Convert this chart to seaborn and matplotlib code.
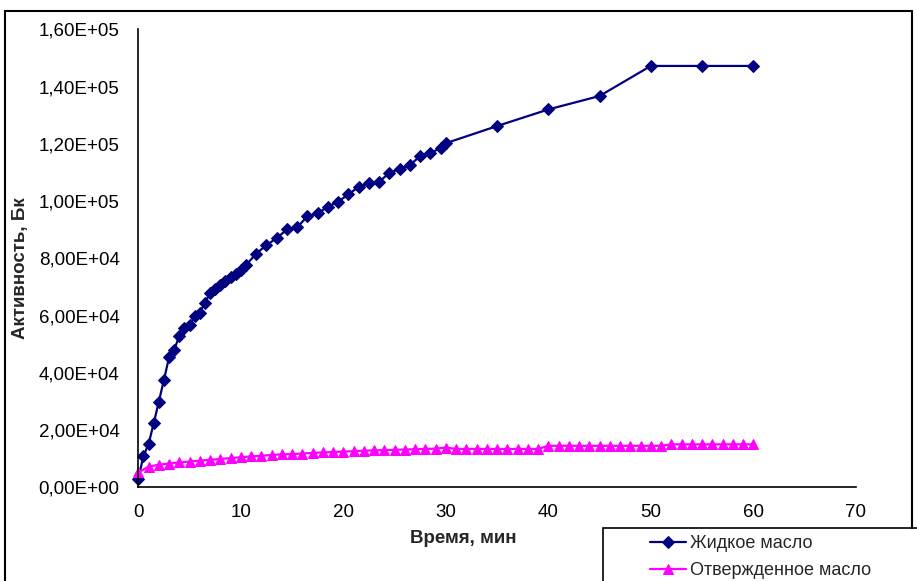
import matplotlib
matplotlib.use('Agg')
import matplotlib.pyplot as plt
import seaborn as sns
from matplotlib.ticker import FuncFormatter, MultipleLocator
from matplotlib.patches import Rectangle
from matplotlib.lines import Line2D

# liquid oil (blue diamonds)
liquid_t = [0, 0.5, 1, 1.5, 2, 2.5, 3, 3.5, 4, 4.5, 5, 5.5, 6, 6.5, 7, 7.5, 8, 8.5, 9, 9.5,
            10, 10.5, 11.5, 12.5, 13.5, 14.5, 15.5, 16.5, 17.5, 18.5, 19.5, 20.5, 21.5, 22.5,
            23.5, 24.5, 25.5, 26.5, 27.5, 28.5, 29.5, 30, 35, 40, 45, 50, 55, 60]
liquid_a = [3000, 10900, 15100, 22300, 29900, 37500, 45400, 48000, 52900, 55500,
            56700, 59800, 61000, 64500, 67800, 69200, 70500, 72000, 73300, 74600,
            75900, 77600, 81600, 84600, 87000, 90100, 90800, 94700, 95700, 98000,
            99800, 102300, 105000, 106200, 106700, 109900, 111200, 112600, 115700, 116700,
            118600, 120200, 126200, 132000, 136700, 147200, 147200, 147200]

# hardened oil (magenta triangles), one reading per minute 0..60
hard_t = list(range(0, 61))
hard_a = [5200, 7200, 7900, 8300, 8700, 9000, 9300, 9600, 9900, 10200,
          10500, 10800, 11000, 11300, 11500, 11600, 11800, 12000, 12200, 12300,
          12500, 12600, 12800, 12900, 13000, 13100, 13200, 13300, 13400, 13500,
          13900, 13400, 13400, 13400, 13400, 13400, 13400, 13400, 13400, 13400,
          14500, 14500, 14500, 14500, 14500, 14500, 14500, 14500, 14500, 14500,
          14500, 14500, 15000, 15000, 15000, 15000, 15000, 15000, 15000, 15000, 15000]

labels = ['Жидкое масло', 'Отвержденное масло']

sns.set_style('white')
plt.rcParams['font.family'] = ['Liberation Sans', 'DejaVu Sans']

W, H = 917, 581
fig = plt.figure(figsize=(W / 100, H / 100), dpi=100)
ax = fig.add_axes([138.3 / W, 1 - 487.3 / H, 717.5 / W, 458 / H])

sns.lineplot(x=liquid_t, y=liquid_a, ax=ax, color='#000080', marker='D', markersize=6.3,
             markeredgecolor='#000080', linewidth=1.6, label=labels[0], clip_on=False)
sns.lineplot(x=hard_t, y=hard_a, ax=ax, color='#FF00FF', marker='^', markersize=6.8,
             markeredgecolor='#FF00FF', linewidth=1.6, label=labels[1], clip_on=False)

ax.set_xlim(0, 70)
ax.set_ylim(0, 160000)
ax.xaxis.set_major_locator(MultipleLocator(10))
ax.yaxis.set_major_locator(MultipleLocator(20000))
ax.yaxis.set_major_formatter(FuncFormatter(lambda v, p: f'{v:.2E}'.replace('.', ',')))

for s in ['top', 'right']:
    ax.spines[s].set_visible(False)
for s in ['left', 'bottom']:
    ax.spines[s].set_color('black')
    ax.spines[s].set_linewidth(1.2)

ax.tick_params(axis='both', direction='out', length=5, width=1, color='black',
               labelsize=13.5, labelcolor='black')
ax.tick_params(axis='y', pad=8.4)
ax.tick_params(axis='x', pad=7)

ax.set_xlabel('Время, мин', fontsize=13.5, fontweight='bold')
ax.set_ylabel('Активность, Бк', fontsize=13.5, fontweight='bold')
ax.xaxis.set_label_coords((463 - 138.3) / 717.5, -(530 - 487.3) / 458)
ax.yaxis.set_label_coords(-(138.3 - 29) / 717.5, (487.3 - 268) / 458)

# legend: frame drawn separately, it runs off the figure edge
ax.get_legend().remove()
fig.add_artist(Rectangle((603 / W, -0.1), 0.5, 1 - 528 / H + 0.1, transform=fig.transFigure,
                         facecolor='white', edgecolor='black', linewidth=1.2))
h, l = ax.get_legend_handles_labels()
fig.legend(h, l, loc='upper left', bbox_to_anchor=(650 / W, 1 - 535 / H), frameon=False,
           borderpad=0, borderaxespad=0, handlelength=2.0, handletextpad=0.2,
           labelspacing=0.55, fontsize=13)

# outer chart frame
fig.add_artist(Line2D([5 / W, 5 / W], [0, 1 - 11 / H], color='black', lw=1.5, transform=fig.transFigure))
fig.add_artist(Line2D([5 / W, 912 / W], [1 - 11 / H, 1 - 11 / H], color='black', lw=1.5, transform=fig.transFigure))
fig.add_artist(Line2D([912 / W, 912 / W], [1 - 11 / H, 1 - 528 / H], color='black', lw=1.5, transform=fig.transFigure))

fig.savefig('out.png', dpi=100)
